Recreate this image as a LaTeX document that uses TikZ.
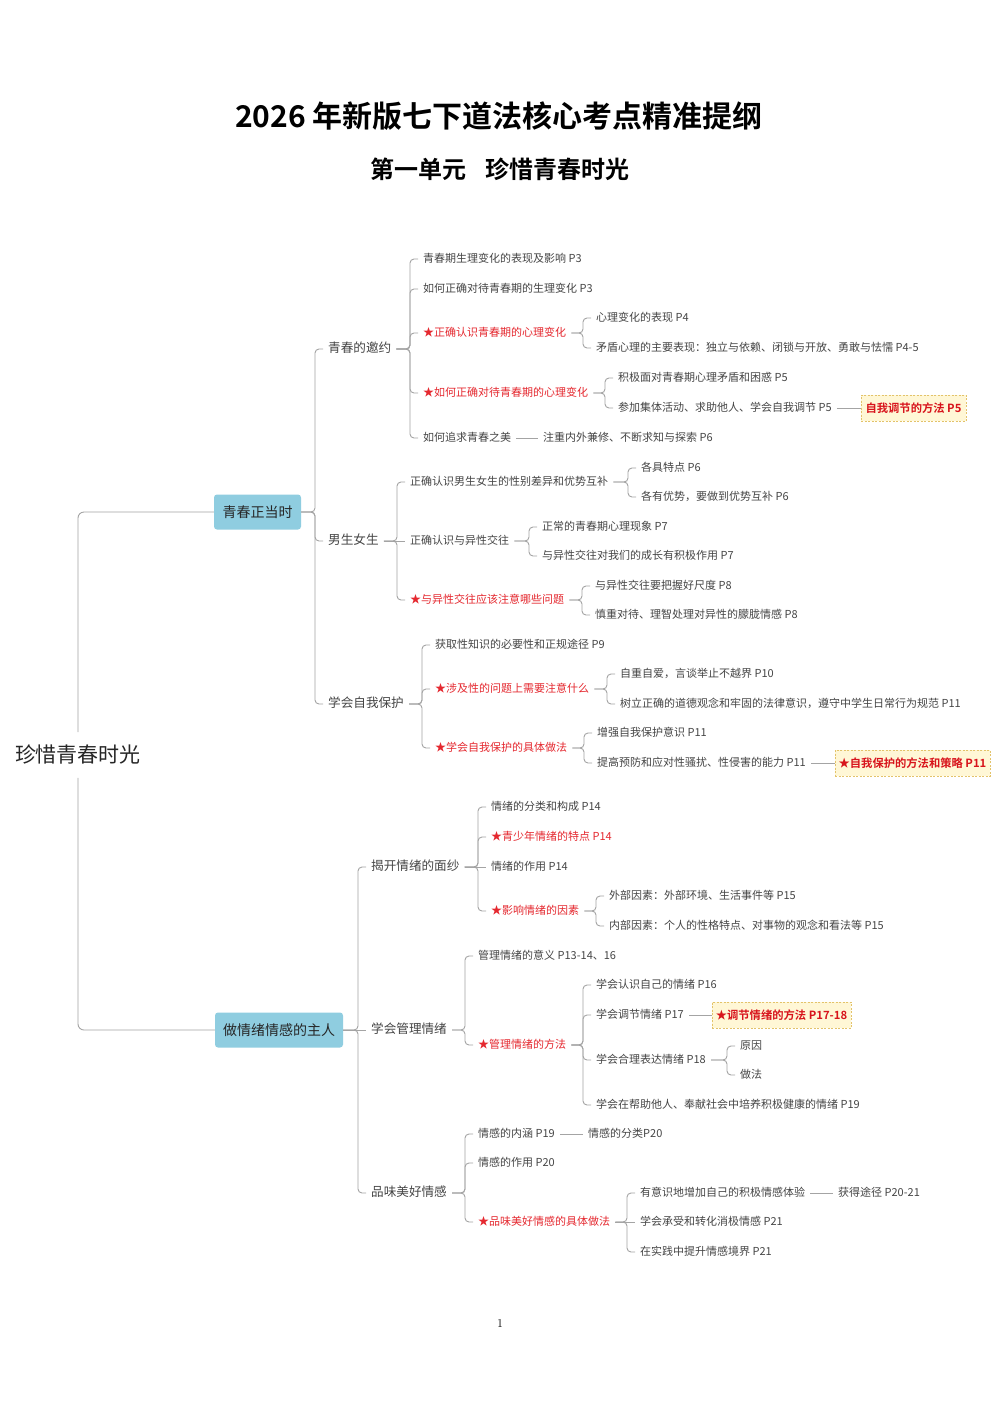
\documentclass[tikz,border=0pt]{standalone}
\usepackage{fontspec}
\newfontfamily\cjk{Noto Sans CJK SC}
\newfontfamily\cjkb{Noto Sans CJK SC Bold}
\usetikzlibrary{calc}
\definecolor{txt}{HTML}{454545}
\definecolor{redt}{HTML}{E5282F}
\definecolor{conncol}{HTML}{A4A4A4}
\definecolor{topicfill}{HTML}{8FCDE0}
\definecolor{hlfill}{HTML}{FFF7D6}
\definecolor{hldraw}{HTML}{E3C36A}
\definecolor{hltext}{HTML}{D8141C}
\tikzset{
  t/.style={anchor=west,inner sep=0pt,text height=8.5pt,text depth=2pt,text=txt,font={\cjk\fontsize{11pt}{13pt}\selectfont}},
  rt/.style={t,text=redt},
  lv/.style={anchor=west,inner sep=0pt,text height=10pt,text depth=2.5pt,text=txt,font={\cjk\fontsize{12.6pt}{15pt}\selectfont}},
  topic/.style={fill=topicfill,rounded corners=3pt,text=black!85,font={\cjk\fontsize{14pt}{16pt}\selectfont},minimum height=35pt,inner xsep=0pt},
  rootn/.style={inner sep=0pt,text=black!85,font={\cjk\fontsize{21pt}{24pt}\selectfont}},
  hl/.style={fill=hlfill,draw=hldraw,dash pattern=on 2pt off 1.5pt,line width=0.7pt,text=hltext,font={\cjkb\fontsize{11.3pt}{13pt}\selectfont},minimum height=26pt,inner xsep=0pt},
  conn/.style={draw=conncol,line width=0.9pt,rounded corners=4pt}
}
\newcommand\lnk[3][5]{\draw[conn] ($(#2.east)+(#1,0)$) -| ($(#3.west)+(-13,0)$) -- ($(#3.west)+(-5,0)$);}
\newcommand\lnks[3][5]{\draw[conn] ($(#2.east)+(#1,0)$) -- ($(#3.west)+(-5,0)$);}
\newcommand\lnkh[2]{\draw[conn] ($(#1.east)+(5,0)$) -- (#2.west);}
\begin{document}
\begin{tikzpicture}[x=1pt,y=-1pt]
\useasboundingbox (0,0) rectangle (1000,1414);
\fill[white] (0,0) rectangle (1000,1414);
% titles
\node[inner sep=0pt,font={\cjkb\fontsize{30pt}{34pt}\selectfont},text=black] (title) at (499,116) {2026 年新版七下道法核心考点精准提纲};
\node[inner sep=0pt,font={\cjkb\fontsize{24pt}{28pt}\selectfont},text=black] (sub) at (500,169) {第一单元\hspace{0.8em}珍惜青春时光};
\node[inner sep=0pt,font=\fontsize{12pt}{14pt}\selectfont] (pg) at (500,1323) {1};
% root and topics
\node[rootn] (root) at (78,755) {珍惜青春时光};
\node[topic,minimum width=87pt] (A) at (257.5,512) {青春正当时};
\node[topic,minimum width=128pt] (B) at (279,1030) {做情绪情感的主人};
\draw[conn,rounded corners=6pt] ($(root.north)+(0,-13)$) |- (A.west);
\draw[conn,rounded corners=6pt] ($(root.south)+(0,13)$) |- (B.west);
% ---------- A ----------
\node[lv] (A1) at (328,349) {青春的邀约};
\node[lv] (A2) at (328,541) {男生女生};
\node[lv] (A3) at (328,704) {学会自我保护};
\lnk[0]{A}{A1}\lnk[0]{A}{A2}\lnk[0]{A}{A3}
% A1
\node[t] (A11) at (423,259) {青春期生理变化的表现及影响 P3};
\node[t] (A12) at (423,289) {如何正确对待青春期的生理变化 P3};
\node[rt] (A13) at (423,333) {★正确认识青春期的心理变化};
\node[rt] (A14) at (423,393) {★如何正确对待青春期的心理变化};
\node[t] (A15) at (423,438) {如何追求青春之美};
\foreach \c in {A11,A12,A13,A14,A15} {\lnk{A1}{\c}}
\node[t] (A131) at (596,318) {心理变化的表现 P4};
\node[t] (A132) at (596,348) {矛盾心理的主要表现：独立与依赖、闭锁与开放、勇敢与怯懦 P4-5};
\lnk{A13}{A131}\lnk{A13}{A132}
\node[t] (A141) at (618,378) {积极面对青春期心理矛盾和困惑 P5};
\node[t] (A142) at (618,408) {参加集体活动、求助他人、学会自我调节 P5};
\lnk{A14}{A141}\lnk{A14}{A142}
\node[hl,minimum width=105pt] (H1) at (913.5,408) {自我调节的方法 P5};
\lnkh{A142}{H1}
\node[t] (A151) at (543,438) {注重内外兼修、不断求知与探索 P6};
\lnks{A15}{A151}
% A2
\node[t] (A21) at (410,482) {正确认识男生女生的性别差异和优势互补};
\node[t] (A22) at (410,541) {正确认识与异性交往};
\node[rt] (A23) at (410,600) {★与异性交往应该注意哪些问题};
\lnk{A2}{A21}\lnks{A2}{A22}\lnk{A2}{A23}
\node[t] (A211) at (641,468) {各具特点 P6};
\node[t] (A212) at (641,497) {各有优势，要做到优势互补 P6};
\lnk{A21}{A211}\lnk{A21}{A212}
\node[t] (A221) at (542,527) {正常的青春期心理现象 P7};
\node[t] (A222) at (542,556) {与异性交往对我们的成长有积极作用 P7};
\lnk{A22}{A221}\lnk{A22}{A222}
\node[t] (A231) at (595,586) {与异性交往要把握好尺度 P8};
\node[t] (A232) at (595,615) {慎重对待、理智处理对异性的朦胧情感 P8};
\lnk{A23}{A231}\lnk{A23}{A232}
% A3
\node[t] (A31) at (435,645) {获取性知识的必要性和正规途径 P9};
\node[rt] (A32) at (435,689) {★涉及性的问题上需要注意什么};
\node[rt] (A33) at (435,748) {★学会自我保护的具体做法};
\lnk{A3}{A31}\lnk{A3}{A32}\lnk{A3}{A33}
\node[t] (A321) at (620,674) {自重自爱，言谈举止不越界 P10};
\node[t] (A322) at (620,704) {树立正确的道德观念和牢固的法律意识，遵守中学生日常行为规范 P11};
\lnk{A32}{A321}\lnk{A32}{A322}
\node[t] (A331) at (597,733) {增强自我保护意识 P11};
\node[t] (A332) at (597,763) {提高预防和应对性骚扰、性侵害的能力 P11};
\lnk{A33}{A331}\lnk{A33}{A332}
\node[hl,minimum width=155pt] (H2) at (912.5,763) {★自我保护的方法和策略 P11};
\lnkh{A332}{H2}
% ---------- B ----------
\node[lv] (B1) at (371,867) {揭开情绪的面纱};
\node[lv] (B2) at (371,1030) {学会管理情绪};
\node[lv] (B3) at (371,1193) {品味美好情感};
\lnk[0]{B}{B1}\lnks[0]{B}{B2}\lnk[0]{B}{B3}
% B1
\node[t] (B11) at (491,807) {情绪的分类和构成 P14};
\node[rt] (B12) at (491,837) {★青少年情绪的特点 P14};
\node[t] (B13) at (491,867) {情绪的作用 P14};
\node[rt] (B14) at (491,911) {★影响情绪的因素};
\lnk{B1}{B11}\lnk{B1}{B12}\lnks{B1}{B13}\lnk{B1}{B14}
\node[t] (B141) at (609,896) {外部因素：外部环境、生活事件等 P15};
\node[t] (B142) at (609,926) {内部因素：个人的性格特点、对事物的观念和看法等 P15};
\lnk{B14}{B141}\lnk{B14}{B142}
% B2
\node[t] (B21) at (478,956) {管理情绪的意义 P13-14、16};
\node[rt] (B22) at (478,1045) {★管理情绪的方法};
\lnk{B2}{B21}\lnk{B2}{B22}
\node[t] (B221) at (596,985) {学会认识自己的情绪 P16};
\node[t] (B222) at (596,1015) {学会调节情绪 P17};
\node[t] (B223) at (596,1060) {学会合理表达情绪 P18};
\node[t] (B224) at (596,1105) {学会在帮助他人、奉献社会中培养积极健康的情绪 P19};
\foreach \c in {B221,B222,B223,B224} {\lnk{B22}{\c}}
\node[hl,minimum width=139pt] (H3) at (781.5,1015) {★调节情绪的方法 P17-18};
\lnkh{B222}{H3}
\node[t] (B2231) at (740,1046) {原因};
\node[t] (B2232) at (740,1075) {做法};
\lnk{B223}{B2231}\lnk{B223}{B2232}
% B3
\node[t] (B31) at (478,1134) {情感的内涵 P19};
\node[t] (B32) at (478,1163) {情感的作用 P20};
\node[rt] (B33) at (478,1222) {★品味美好情感的具体做法};
\lnk{B3}{B31}\lnk{B3}{B32}\lnk{B3}{B33}
\node[t] (B311) at (588,1134) {情感的分类P20};
\lnks{B31}{B311}
\node[t] (B331) at (640,1193) {有意识地增加自己的积极情感体验};
\node[t] (B332) at (640,1222) {学会承受和转化消极情感 P21};
\node[t] (B333) at (640,1252) {在实践中提升情感境界 P21};
\lnk{B33}{B331}\lnks{B33}{B332}\lnk{B33}{B333}
\node[t] (B3311) at (838,1193) {获得途径 P20-21};
\lnks{B331}{B3311}
\end{tikzpicture}
\end{document}
